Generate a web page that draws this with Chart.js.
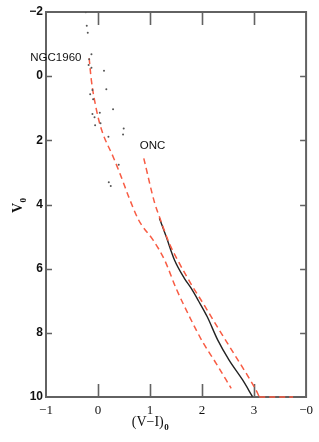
<!DOCTYPE html>
<html><head><meta charset="utf-8">
<script src="https://cdn.jsdelivr.net/npm/chart.js@4/dist/chart.umd.min.js"></script>
<style>html,body{margin:0;padding:0;background:#fff;}#wrap{width:319px;height:442px;}</style>
</head><body><div id="wrap"><canvas id="c" width="319" height="442"></canvas></div>
<script>
// NGC1960 stars
const starsVI = [-0.235,-0.216,-0.197,-0.126,-0.17,-0.18,-0.126,0.115,-0.107,0.16,-0.151,-0.094,0.289,-0.107,0.034,-0.067,0.048,-0.056,0.494,0.481,0.2,0.398,0.207,0.245];
const starsV  = [-1.99,-1.57,-1.35,-0.68,-0.53,-0.35,-0.26,-0.17,0.43,0.41,0.56,0.72,1.03,1.18,1.14,1.28,1.47,1.53,1.63,1.82,1.89,2.76,3.31,3.42];
// NGC1960 isochrone (red dashed)
const ngcVI = [-0.17,-0.13,-0.03,0.07,0.29,0.42,0.6,0.77,0.86,1.06,1.28,1.50,1.76,2.01,2.27,2.56];
const ngcV  = [-0.56,0.1,1.05,1.68,2.51,3.03,3.8,4.45,4.69,5.11,5.73,6.61,7.50,8.28,8.95,9.73];
// ONC isochrone (red dashed)
const oncVI = [0.88,1.09,1.18,1.37,1.53,1.80,2.02,2.33,2.61,2.87,3.07,3.1];
const oncV  = [2.56,3.96,4.38,5.21,5.73,6.51,7.08,7.91,8.64,9.32,9.89,10];
const oncTailVI = [3.1,3.75];
const oncTailV  = [10,10];
// observed sequence (black)
const obsVI = [1.18,1.31,1.47,1.66,1.79,1.93,2.10,2.30,2.52,2.78,2.97];
const obsV  = [4.43,5.0,5.73,6.30,6.61,7.0,7.5,8.22,8.85,9.47,9.99];
const xTicks = [-1,0,1,2,3,4];
const xTickLabels = ['−1','0','1','2','3','−0'];
const yTicks = [-2,0,2,4,6,8,10];
const labelNGC = {text:'NGC1960', x:-0.81, y:-0.57};
const labelONC = {text:'ONC', x:1.05, y:2.18};

const zip = (a,b)=>a.map((v,i)=>({x:v,y:b[i]}));
const RED = '#f85c44';

const framePlugin = {
  id:'frame',
  beforeDatasetsDraw(chart){
    const ctx = chart.ctx, a = chart.chartArea, xs = chart.scales.x, ys = chart.scales.y;
    ctx.save();
    ctx.strokeStyle = '#626262';
    ctx.lineWidth = 2;
    ctx.strokeRect(a.left, a.top, a.right-a.left, a.bottom-a.top);
    ctx.lineWidth = 1.6;
    ctx.beginPath();
    xTicks.slice(1,-1).forEach(v=>{
      const px = Math.round(xs.getPixelForValue(v))+0.5;
      ctx.moveTo(px,a.top); ctx.lineTo(px,a.top+13);
      ctx.moveTo(px,a.bottom); ctx.lineTo(px,a.bottom-13);
    });
    yTicks.slice(1,-1).forEach(v=>{
      const py = Math.round(ys.getPixelForValue(v))+0.5;
      ctx.moveTo(a.left,py); ctx.lineTo(a.left+6,py);
      ctx.moveTo(a.right,py); ctx.lineTo(a.right-6,py);
    });
    ctx.stroke();
    ctx.restore();
  },
  afterDraw(chart){
    const ctx = chart.ctx, xs = chart.scales.x, ys = chart.scales.y;
    ctx.save();
    ctx.fillStyle = '#111';
    ctx.font = '11.5px "Liberation Sans", Arial, sans-serif';
    ctx.textAlign = 'center'; ctx.textBaseline = 'middle';
    [labelNGC,labelONC].forEach(l=>{
      ctx.fillText(l.text, xs.getPixelForValue(l.x), ys.getPixelForValue(l.y));
    });
    // x title
    ctx.textAlign = 'left'; ctx.textBaseline = 'alphabetic';
    ctx.font = '14px "Liberation Serif", "Times New Roman", serif';
    const t1 = '(V−I)';
    const w1 = ctx.measureText(t1).width;
    ctx.font = 'bold 9px "Liberation Serif", serif';
    const w2 = ctx.measureText('0').width;
    const x0 = 150 - (w1+w2)/2;
    ctx.font = '14px "Liberation Serif", "Times New Roman", serif';
    ctx.fillText(t1, x0, 426);
    ctx.font = 'bold 9px "Liberation Serif", serif';
    ctx.fillText('0', x0+w1+0.5, 430);
    // y title
    ctx.save();
    ctx.translate(18, 205);
    ctx.rotate(-Math.PI/2);
    ctx.font = 'bold 14px "Liberation Serif", serif';
    const wv = ctx.measureText('V').width;
    ctx.fillText('V', -(wv+6)/2, 4);
    ctx.font = 'bold 9px "Liberation Serif", serif';
    ctx.fillText('0', -(wv+6)/2+wv+0.5, 8);
    ctx.restore();
    ctx.restore();
  }
};

new Chart(document.getElementById('c'), {
  type:'scatter',
  data:{datasets:[
    {data:zip(starsVI,starsV), pointRadius:1, pointBackgroundColor:'#555', pointBorderWidth:0, showLine:false},
    {data:zip(ngcVI,ngcV), showLine:true, borderColor:RED, borderWidth:1.5, borderDash:[6,4], pointRadius:0, cubicInterpolationMode:'monotone', fill:false},
    {data:zip(oncVI,oncV), showLine:true, borderColor:RED, borderWidth:1.5, borderDash:[6,4], pointRadius:0, cubicInterpolationMode:'monotone', fill:false, clip:false},
    {data:zip(oncTailVI,oncTailV), showLine:true, borderColor:RED, borderWidth:1.5, borderDash:[6,4], pointRadius:0, fill:false, clip:false},
    {data:zip(obsVI,obsV), showLine:true, borderColor:'#222', borderWidth:1.4, pointRadius:0, cubicInterpolationMode:'monotone', fill:false}
  ]},
  options:{
    responsive:false, devicePixelRatio:1, animation:false,
    layout:{padding:{top:12,right:12,left:0,bottom:0}},
    plugins:{legend:{display:false}, tooltip:{enabled:false}},
    scales:{
      x:{type:'linear', min:-1, max:4,
        grid:{display:false, drawTicks:false}, border:{display:false},
        afterBuildTicks(s){ s.ticks = xTicks.map(v=>({value:v})); },
        afterFit(s){ s.height = 45; },
        ticks:{padding:6, maxRotation:0, autoSkip:false, color:'#111',
          font:{family:'"Liberation Serif", serif', size:13},
          callback:(v)=>xTickLabels[xTicks.indexOf(v)]}},
      y:{type:'linear', reverse:true, min:-2, max:10,
        grid:{display:false, drawTicks:false}, border:{display:false},
        afterBuildTicks(s){ s.ticks = yTicks.map(v=>({value:v})); },
        afterFit(s){ s.width = 46; },
        ticks:{padding:3, autoSkip:false, color:'#111',
          font:{family:'"Liberation Sans", Arial, sans-serif', size:12, weight:'bold'},
          callback:(v)=>String(v).replace('-','−')}}
    }
  },
  plugins:[framePlugin]
});
</script></body></html>
